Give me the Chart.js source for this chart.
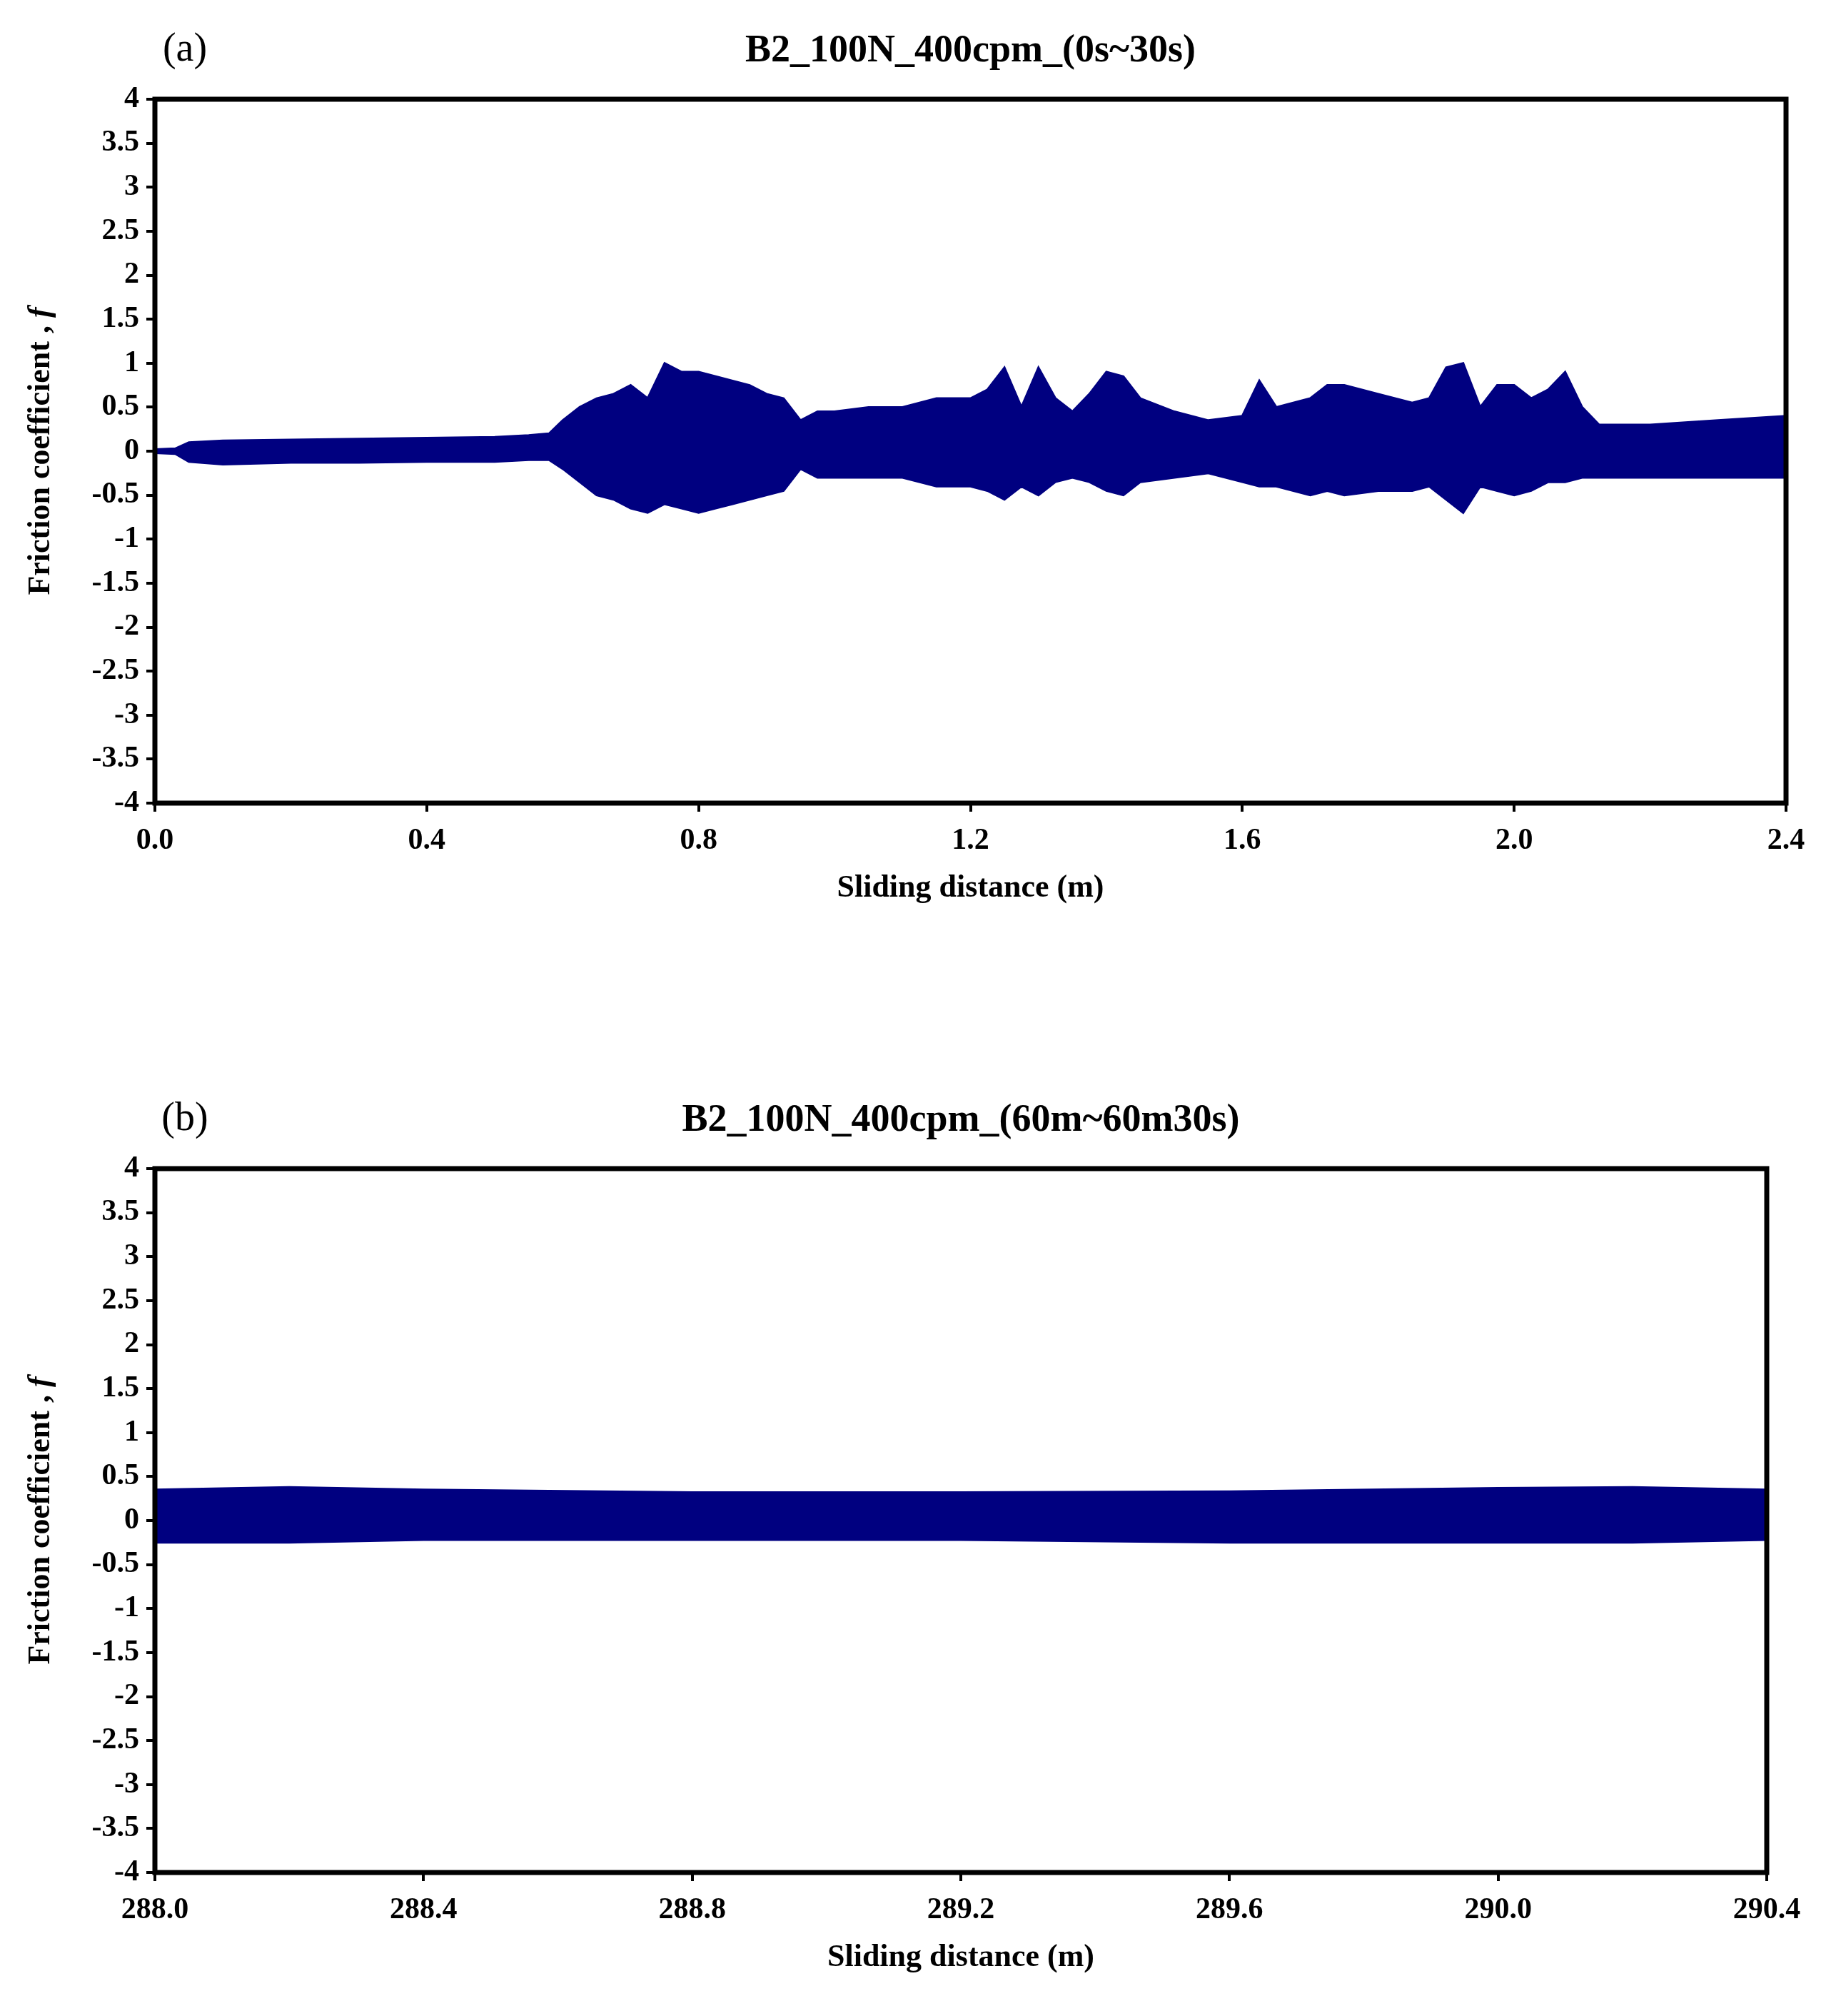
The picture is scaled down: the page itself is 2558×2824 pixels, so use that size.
<!DOCTYPE html>
<html>
<head>
<meta charset="utf-8">
<script src="https://cdn.jsdelivr.net/npm/chart.js@4.4.1/dist/chart.umd.min.js"></script>
<style>
  body { margin: 0; background: #fff; }
  canvas { display: block; }
</style>
</head>
<body>
<canvas id="chartA" width="2558" height="1412"></canvas>
<canvas id="chartB" width="2558" height="1412"></canvas>
<script>
// envelope of the friction signal, panel (a)
const topX = [0, 0.03, 0.05, 0.1, 0.2, 0.3, 0.4, 0.5, 0.55, 0.58, 0.6, 0.625, 0.65, 0.675, 0.7, 0.725, 0.75, 0.775, 0.8, 0.825, 0.85, 0.875, 0.9, 0.925, 0.95, 0.975, 1.0, 1.05, 1.1, 1.15, 1.2, 1.225, 1.25, 1.275, 1.3, 1.325, 1.35, 1.375, 1.4, 1.425, 1.45, 1.5, 1.55, 1.6, 1.625, 1.65, 1.7, 1.725, 1.75, 1.8, 1.85, 1.875, 1.9, 1.925, 1.95, 1.975, 2.0, 2.025, 2.05, 2.075, 2.1, 2.125, 2.2, 2.3, 2.4];
const topUpper = [0.02, 0.03, 0.1, 0.12, 0.13, 0.14, 0.15, 0.16, 0.18, 0.2, 0.35, 0.5, 0.6, 0.65, 0.75, 0.6, 1.0, 0.9, 0.9, 0.85, 0.8, 0.75, 0.65, 0.6, 0.35, 0.45, 0.45, 0.5, 0.5, 0.6, 0.6, 0.7, 0.95, 0.5, 0.95, 0.6, 0.45, 0.65, 0.9, 0.85, 0.6, 0.45, 0.35, 0.4, 0.8, 0.5, 0.6, 0.75, 0.75, 0.65, 0.55, 0.6, 0.95, 1.0, 0.5, 0.75, 0.75, 0.6, 0.7, 0.9, 0.5, 0.3, 0.3, 0.35, 0.4];
const topLower = [-0.02, -0.03, -0.12, -0.15, -0.13, -0.13, -0.12, -0.12, -0.1, -0.1, -0.2, -0.35, -0.5, -0.55, -0.65, -0.7, -0.6, -0.65, -0.7, -0.65, -0.6, -0.55, -0.5, -0.45, -0.2, -0.3, -0.3, -0.3, -0.3, -0.4, -0.4, -0.45, -0.55, -0.4, -0.5, -0.35, -0.3, -0.35, -0.45, -0.5, -0.35, -0.3, -0.25, -0.35, -0.4, -0.4, -0.5, -0.45, -0.5, -0.45, -0.45, -0.4, -0.55, -0.7, -0.4, -0.45, -0.5, -0.45, -0.35, -0.35, -0.3, -0.3, -0.3, -0.3, -0.3];

// envelope of the friction signal, panel (b)
const botX = [288.0, 288.2, 288.4, 288.8, 289.2, 289.6, 290.0, 290.2, 290.4];
const botUpper = [0.35, 0.38, 0.35, 0.32, 0.32, 0.33, 0.37, 0.38, 0.35];
const botLower = [-0.25, -0.25, -0.22, -0.22, -0.22, -0.25, -0.25, -0.25, -0.22];

const fontFam = "'Liberation Serif', 'Times New Roman', serif";
const navy = "#000080";

function pts(xs, ys) {
  return xs.map((x, i) => ({ x, y: ys[i] }));
}

function makeChart(id, label, title, xs, up, lo, xmin, xmax, pad) {
  const framePlugin = {
    id: "frame",
    afterDraw(chart) {
      const { ctx, chartArea: a } = chart;
      ctx.save();
      ctx.strokeStyle = "#000";
      ctx.lineWidth = 7;
      ctx.strokeRect(a.left, a.top, a.right - a.left, a.bottom - a.top);
      ctx.fillStyle = "#000";
      ctx.textBaseline = "middle";
      ctx.textAlign = "center";
      ctx.font = "56px " + fontFam;
      ctx.fillText(label, 259, pad.top - 69);
      ctx.font = "bold 54px " + fontFam;
      ctx.fillText(title, (a.left + a.right) / 2, pad.top - 67);
      // y axis title with italic f
      ctx.translate(58, (a.top + a.bottom) / 2);
      ctx.rotate(-Math.PI / 2);
      const t1 = "Friction coefficient , ";
      ctx.font = "bold 44px " + fontFam;
      const w1 = ctx.measureText(t1).width;
      ctx.font = "bold italic 44px " + fontFam;
      const w2 = ctx.measureText("f").width;
      ctx.textAlign = "left";
      ctx.font = "bold 44px " + fontFam;
      ctx.fillText(t1, -(w1 + w2) / 2, 0);
      ctx.font = "bold italic 44px " + fontFam;
      ctx.fillText("f", -(w1 + w2) / 2 + w1, 0);
      ctx.restore();
    }
  };

  return new Chart(document.getElementById(id), {
    type: "line",
    data: {
      datasets: [
        { data: pts(xs, up), borderColor: navy, backgroundColor: navy, borderWidth: 3, fill: "+1", pointRadius: 0, tension: 0 },
        { data: pts(xs, lo), borderColor: navy, backgroundColor: navy, borderWidth: 3, fill: false, pointRadius: 0, tension: 0 }
      ]
    },
    options: {
      responsive: false,
      animation: false,
      devicePixelRatio: 1,
      layout: { padding: pad },
      plugins: { legend: { display: false }, tooltip: { enabled: false } },
      scales: {
        x: {
          type: "linear",
          min: xmin,
          max: xmax,
          afterFit: (s) => { s.height = 150; },
          ticks: {
            stepSize: 0.4,
            color: "#000",
            font: { family: fontFam, size: 42, weight: "bold" },
            maxRotation: 0,
            padding: 16,
            callback: (v) => v.toFixed(1)
          },
          grid: { drawOnChartArea: false, tickLength: 12, color: "#000", lineWidth: 4 },
          border: { display: false },
          title: {
            display: true,
            text: "Sliding distance (m)",
            color: "#000",
            font: { family: fontFam, size: 44, weight: "bold" },
            padding: { top: 10 }
          }
        },
        y: {
          min: -4,
          max: 4,
          afterFit: (s) => { s.width = 217; },
          ticks: {
            stepSize: 0.5,
            color: "#000",
            font: { family: fontFam, size: 42, weight: "bold" },
            padding: 10,
            callback: (v) => String(v)
          },
          grid: { drawOnChartArea: false, tickLength: 12, color: "#000", lineWidth: 4 },
          border: { display: false }
        }
      }
    },
    plugins: [framePlugin]
  });
}

makeChart("chartA", "(a)", "B2_100N_400cpm_(0s~30s)", topX, topUpper, topLower, 0, 2.4,
  { top: 139, left: 0, right: 56, bottom: 137 });
makeChart("chartB", "(b)", "B2_100N_400cpm_(60m~60m30s)", botX, botUpper, botLower, 288, 290.4,
  { top: 225, left: 0, right: 83, bottom: 51 });
</script>
</body>
</html>
